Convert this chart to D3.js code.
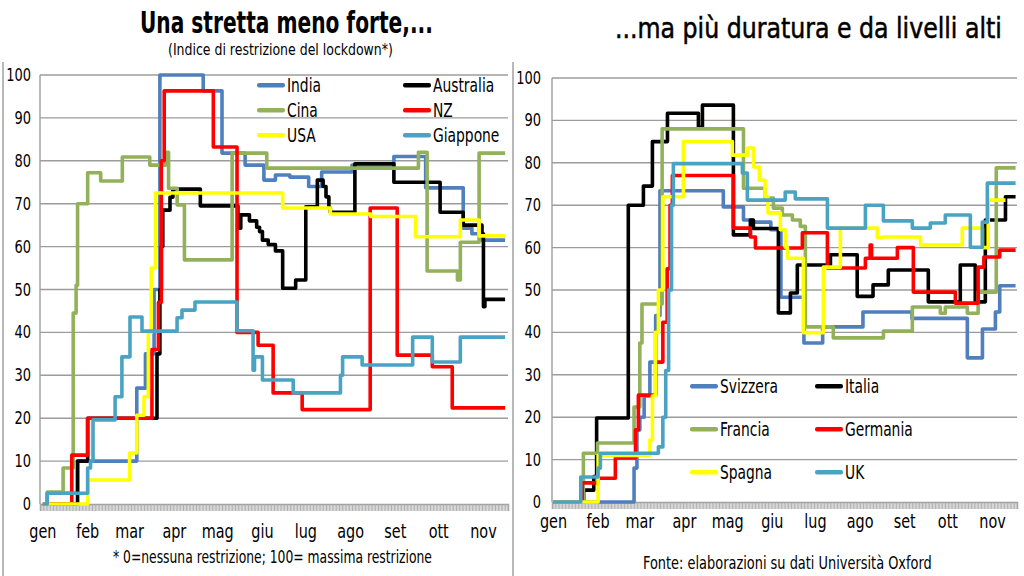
<!DOCTYPE html>
<html><head><meta charset="utf-8">
<script src="https://cdn.jsdelivr.net/npm/d3@7"></script>
<style>
body{margin:0;background:#fff}
svg{display:block}
text{font-family:"Liberation Sans Narrow","DejaVu Sans Condensed","Roboto",sans-serif;fill:#000}
</style>
</head><body><svg id="c" width="1024" height="576"></svg>
<script>
// ---- axis labels ----
const months = ["gen","feb","mar","apr","mag","giu","lug","ago","set","ott","nov"];
const monthStart = [0,31,60,91,121,152,182,213,244,274,305];
const yTicks = [0,10,20,30,40,50,60,70,80,90,100];

// ---- left chart: [day of 2020, index] ----
const india = [[0,0],[3,2.5],[24,10],[65,27],[71,35],[77,50],[81,100],[111,96.3],[124,81.8],[140,79],[153,75.5],[161,76.7],[171,76.2],[184,74],[193,77.4],[214,79],[243,81],[265,73.7],[291,64.3],[297,63],[304,61.5],[320,61.5]];
const australia = [[0,0],[24,10],[31,20],[78,20],[79,35],[81,50],[82,60],[83,68.5],[88,71.5],[90,73.4],[109,69.5],[135,64.3],[137,67.4],[143,66],[148,64.5],[150,63.5],[152,61.5],[156,60.5],[161,59],[166,50.3],[175,52.2],[182,69.3],[190,75.5],[194,74],[196,71.6],[198,69],[199,68],[216,79.3],[243,75],[275,68],[291,65],[304,63],[305,46],[306,47.7],[320,47.7]];
const cina = [[0,0],[3,2.8],[14,8.4],[21,44.5],[23,51],[24,70],[31,77.2],[40,75.3],[55,80.9],[74,79],[85,82],[87,73.6],[93,69.7],[98,56.9],[131,81.8],[155,78.3],[260,82],[266,54.3],[287,52.2],[289,61],[302,81.8],[320,81.8]];
const nz = [[0,0],[20,11.4],[31,20],[75.5,36],[80,47],[82,80],[84,96.3],[118,83.2],[134.4,40],[149,37],[159.4,25.9],[179.5,22],[226.6,69],[245.3,34.7],[269.6,32],[283.4,22.4],[320,22.4]];
const usa = [[0,0],[31,5.6],[60,11.9],[65,20.7],[70,25],[73,40],[75,55],[78,72.5],[166,69],[199,67.6],[227,67],[258,62.3],[289,66.2],[302,62.5],[320,62.5]];
const giappone = [[0,0],[3,2.5],[31,8.4],[33,10],[34.7,19.6],[50,25],[54.7,34.3],[60.3,43.6],[68.6,40.3],[92.9,43.4],[96.3,45.2],[105.3,47.1],[134.4,40.4],[145.5,31.2],[146.5,34.3],[152,28.9],[173.3,25.9],[206,30],[207.5,34.3],[221,32.4],[256,38.9],[269.6,33.1],[289,38.9],[320,38.9]];

// ---- right chart ----
const svizzera = [[0,0],[55,0],[56,8],[58,17],[60,20],[63,25],[67,33],[71,44],[74,73.4],[118,69.6],[132,66.5],[138,66],[151,64.2],[158,48.3],[174,37.5],[187,41.3],[215,44.8],[249,43.3],[287.5,34],[298,40.8],[307,44.8],[310,51],[321,51]];
const italia = [[0,0],[21,2.8],[28,6],[30,19.8],[52,70],[62.5,74.5],[68.75,85],[79.2,91.7],[100.7,88.4],[103.5,93.6],[125,63],[136.8,66.5],[138.9,64.5],[156.25,44.6],[164.6,49.3],[169.4,55.9],[192.4,58.3],[211,48.5],[222,51.2],[232.6,54.7],[260.4,47.2],[282.6,55.9],[293,47.2],[300,66.5],[314,72],[321,72]];
const francia = [[0,0],[20.8,11.5],[30.6,13.9],[56,22.4],[60,37.5],[61.5,46.7],[75.5,88],[132,74],[147,71.7],[152.8,69.3],[159,67.7],[166,66.5],[171.5,65],[175,41.3],[194.4,38.7],[229.2,40.3],[249.3,46],[268.75,44.5],[272.2,46],[287.5,44.5],[295,49.5],[307.6,78.8],[321,78.8]];
const germania = [[0,0],[20,4.5],[31,5.6],[43,10.4],[57,17],[59,25.2],[71,33],[76,42.4],[79,55],[81,70],[82.6,77],[125,64.6],[136.8,62.5],[140.3,59.9],[172.9,63.5],[190.3,55.2],[216.7,57.5],[220,60.6],[221,57.5],[238.9,60],[250,49.5],[279.2,46.9],[295,55.4],[299,57.8],[310,59.4],[321,59.4]];
const spagna = [[0,0],[31,11],[67,14.6],[68.75,25],[70.8,40],[72.9,50],[76,72],[90.3,85],[124.3,81.8],[135,83.5],[139,79],[143,75.9],[147,72],[149,68.2],[157.6,64.2],[161,60.1],[162.5,57.5],[173.6,39.9],[187.5,55.4],[199.3,64.6],[225,62.3],[228.5,62.5],[255,60.6],[284,64.6],[298,60],[302,71.2],[314,71.2]];
const uk = [[0,0],[19,5.9],[31,8],[32.6,11.5],[72.9,13],[76,20],[78,31],[80,50],[82,70],[83.3,79.8],[131.25,77.6],[134.7,71.2],[161,73.1],[168,71.5],[190.3,64.6],[216.7,70],[229.2,66.3],[249.3,64.6],[261.8,65.8],[272.2,67.7],[289.6,60.1],[297.9,66],[301.4,75.2],[321,75.2]];

const C = {blue:"#4F7FBD", black:"#000000", green:"#93B05A", red:"#FF0000", yellow:"#FFFF00", teal:"#4BA3C3"};

const svg = d3.select("#c");

// text placed at (x,y) and squeezed horizontally by sx
function stext(parent, x, y, sx, size, anchor, str){
  return parent.append("text")
    .attr("transform",`translate(${x},${y}) scale(${sx},1)`)
    .attr("font-size",size).attr("text-anchor",anchor).text(str);
}
// text fitted to a target width starting at x
function ftext(x, y, width, size, bold, str){
  const t = svg.append("text").attr("font-size",size).attr("font-weight",bold?"bold":"normal").text(str);
  const len = t.node().getComputedTextLength();
  t.attr("transform",`translate(${x},${y}) scale(${width/len},1)`);
  return t;
}

// panel separators
svg.append("line").attr("x1",3).attr("x2",3).attr("y1",62).attr("y2",576).attr("stroke","#a0a0a0").attr("stroke-width",1.5);
svg.append("line").attr("x1",513).attr("x2",513).attr("y1",62).attr("y2",576).attr("stroke","#a0a0a0").attr("stroke-width",1.5);

function panel(cfg){
  const x = d3.scaleLinear().domain(cfg.xd).range(cfg.xr);
  const y = d3.scaleLinear().domain([0,100]).range(cfg.yr);
  const g = svg.append("g");
  g.selectAll("line.grid").data(yTicks.filter(v=>v>0)).join("line")
    .attr("x1",cfg.xr[0]).attr("x2",cfg.xr[1]).attr("y1",d=>y(d)).attr("y2",d=>y(d))
    .attr("stroke","#9c9c9c").attr("stroke-width",1.4);
  g.append("line").attr("x1",cfg.xr[0]).attr("x2",cfg.xr[0]).attr("y1",y(0)).attr("y2",y(100))
    .attr("stroke","#9c9c9c").attr("stroke-width",1.4);
  yTicks.forEach(v=>stext(g, cfg.ylx, y(v)+6, 0.85, 17, "end", v));
  const ax = g.append("g").attr("transform",`translate(0,${y(0)})`)
    .call(d3.axisBottom(x).tickValues(d3.range(cfg.xd[0],cfg.xd[1]+1)).tickSize(7).tickFormat(""));
  ax.select(".domain").attr("stroke","#9c9c9c").attr("stroke-width",1.5);
  ax.selectAll(".tick line").attr("stroke","#a8a8a8").attr("stroke-width",0.9);
  monthStart.forEach((d,i)=>stext(g, x(d), cfg.mly, 0.8, 20, "middle", months[i]));
  const line = d3.line().x(d=>x(d[0])).y(d=>y(d[1])).curve(d3.curveStepAfter);
  cfg.series.forEach(s=>{
    g.append("path").attr("d",line(s.data)).attr("fill","none")
      .attr("stroke",s.color).attr("stroke-width",3.6).attr("stroke-linejoin","round");
  });
  cfg.series.forEach((s,i)=>{
    const col = i%2, row = Math.floor(i/2);
    const lx = cfg.legX[col], ly = cfg.legY[row];
    g.append("rect").attr("x",lx).attr("y",ly-2).attr("width",28).attr("height",4.5).attr("rx",2).attr("fill",s.color);
    stext(g, lx+30, ly+7, 0.77, 20, "start", s.name);
  });
}

panel({
  xd:[-2,322], xr:[40,508], yr:[504,75], ylx:31, mly:538,
  legX:[257,403], legY:[85,110,135],
  series:[
    {name:"India",data:india,color:C.blue},
    {name:"Australia",data:australia,color:C.black},
    {name:"Cina",data:cina,color:C.green},
    {name:"NZ",data:nz,color:C.red},
    {name:"USA",data:usa,color:C.yellow},
    {name:"Giappone",data:giappone,color:C.teal}
  ]
});

panel({
  xd:[-1,322], xr:[552,1017], yr:[502,78], ylx:541, mly:528,
  legX:[690,815], legY:[386,429,472],
  series:[
    {name:"Svizzera",data:svizzera,color:C.blue},
    {name:"Italia",data:italia,color:C.black},
    {name:"Francia",data:francia,color:C.green},
    {name:"Germania",data:germania,color:C.red},
    {name:"Spagna",data:spagna,color:C.yellow},
    {name:"UK",data:uk,color:C.teal}
  ]
});

// titles and notes
ftext(140, 33, 293, 30, true, "Una stretta meno forte,...");
ftext(168, 55, 225, 16, false, "(Indice di restrizione del lockdown*)");
ftext(615, 38, 387, 28, false, "...ma più duratura e da livelli alti").attr("stroke","#000").attr("stroke-width",0.5);
ftext(113, 563, 319, 18, false, "* 0=nessuna restrizione; 100= massima restrizione");
ftext(643, 569, 289, 18, false, "Fonte: elaborazioni su dati Università Oxford");
</script></body></html>
